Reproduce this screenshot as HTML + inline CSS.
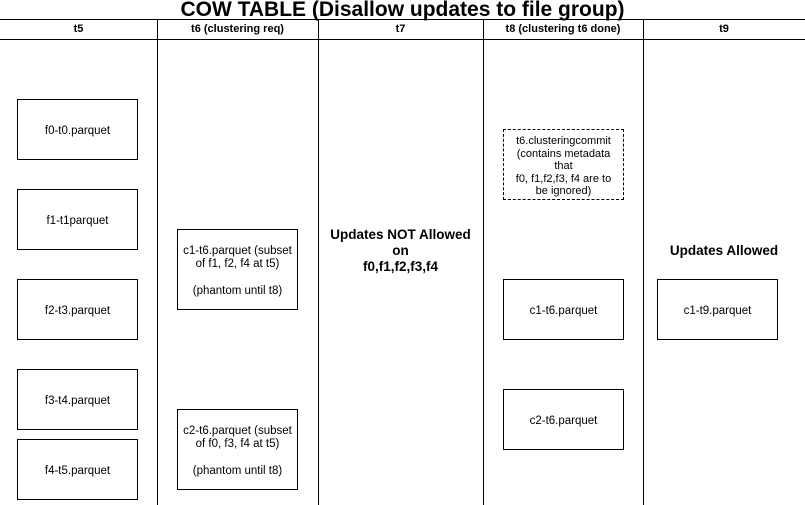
<!DOCTYPE html>
<html><head><meta charset="utf-8"><style>
body{margin:0;width:805px;height:505px;background:#fff;position:relative;overflow:hidden;font-family:"Liberation Sans",sans-serif;color:#000}
.a{position:absolute}
.h{position:absolute;left:0;width:805px;height:1px;background:#000}
.v{position:absolute;top:19px;height:486px;width:1px;background:#000}
.hd{position:absolute;top:19px;height:20px;line-height:21px;font-size:11px;font-weight:bold;text-align:center}
.b{position:absolute;border:1px solid #000;box-sizing:border-box;display:flex;align-items:center;justify-content:center;text-align:center;font-size:11.5px;line-height:13.5px;background:#fff;white-space:nowrap;padding-top:4px}
</style></head><body>
<div class="a" style="left:0;width:805px;top:-1px;text-align:center;font-size:21px;font-weight:bold;line-height:22px">COW TABLE (Disallow updates to file group)</div>
<div class="h" style="top:19px"></div>
<div class="h" style="top:39px"></div>
<div class="v" style="left:157px"></div>
<div class="v" style="left:318px"></div>
<div class="v" style="left:483px"></div>
<div class="v" style="left:643px"></div>
<div class="hd" style="left:0;width:157px">t5</div>
<div class="hd" style="left:157px;width:161px">t6 (clustering req)</div>
<div class="hd" style="left:318px;width:165px">t7</div>
<div class="hd" style="left:483px;width:160px">t8 (clustering t6 done)</div>
<div class="hd" style="left:643px;width:162px">t9</div>

<div class="b" style="left:17px;top:99px;width:121px;height:61px">f0-t0.parquet</div>
<div class="b" style="left:17px;top:189px;width:121px;height:61px">f1-t1parquet</div>
<div class="b" style="left:17px;top:279px;width:121px;height:61px">f2-t3.parquet</div>
<div class="b" style="left:17px;top:369px;width:121px;height:61px">f3-t4.parquet</div>
<div class="b" style="left:17px;top:439px;width:121px;height:61px">f4-t5.parquet</div>

<div class="b" style="left:177px;top:229px;width:121px;height:81px">c1-t6.parquet (subset<br>of f1, f2, f4 at t5)<br><br>(phantom until t8)</div>
<div class="b" style="left:177px;top:409px;width:121px;height:81px">c2-t6.parquet (subset<br>of f0, f3, f4 at t5)<br><br>(phantom until t8)</div>

<div class="a" style="left:318px;width:165px;top:227px;text-align:center;font-size:13.5px;font-weight:bold;line-height:16px">Updates NOT Allowed<br>on<br>f0,f1,f2,f3,f4</div>

<div class="b" style="left:503px;top:129px;width:121px;height:71px;border-style:dashed;font-size:11px;line-height:12.5px">t6.clusteringcommit<br>(contains metadata<br>that<br>f0, f1,f2,f3, f4 are to<br>be ignored)</div>
<div class="b" style="left:503px;top:279px;width:121px;height:61px">c1-t6.parquet</div>
<div class="b" style="left:503px;top:389px;width:121px;height:61px">c2-t6.parquet</div>

<div class="a" style="left:643px;width:162px;top:243px;text-align:center;font-size:13.5px;font-weight:bold">Updates Allowed</div>
<div class="b" style="left:657px;top:279px;width:121px;height:61px">c1-t9.parquet</div>
</body></html>
